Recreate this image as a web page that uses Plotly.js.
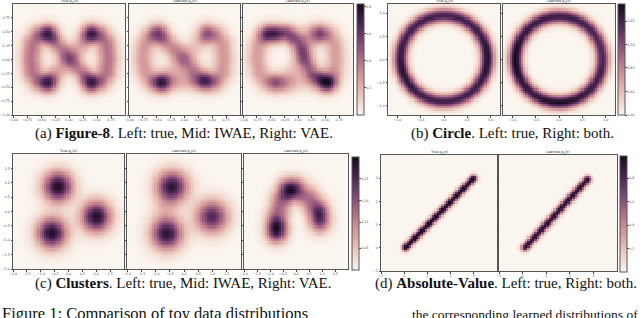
<!DOCTYPE html>
<html><head><meta charset="utf-8">
<script src="https://cdn.plot.ly/plotly-3.0.1.min.js"></script>
<style>html,body{margin:0;padding:0;background:#fff;overflow:hidden}#chart{width:640px;height:318px}</style>
</head><body><div id="chart"></div>
<script>
// ================= DATA =================
// Each stroke: [weight, sigma, x1,y1, x2,y2, ...]  (a blurred polyline of the density)
// Each blob:   [x, y, weight, sigma]
// Each ring:   [cx, cy, radius, sigma, weight]
const fig8TrueStrokes = [
  [0.60, 0.11, -0.38,0.46, 0.40,-0.42],
  [0.38, 0.12, -0.38,-0.42, 0.40,0.46],
  [0.68, 0.13, -0.38,0.46, -0.55,0.42, -0.65,0.28, -0.68,0.02, -0.65,-0.24, -0.55,-0.38, -0.38,-0.42],
  [0.68, 0.13, 0.40,0.46, 0.57,0.42, 0.67,0.28, 0.70,0.02, 0.67,-0.24, 0.57,-0.38, 0.40,-0.42]
];
const fig8TrueBlobs = [[-0.38,-0.42,0.22,0.10],[0.40,0.46,0.22,0.10]];
const fig8IwaeStrokes = [
  [0.70, 0.12, -0.48,0.46, -0.10,0.10, 0.30,-0.36],
  [0.45, 0.12, -0.42,-0.42, 0.05,-0.40, 0.45,-0.40],
  [0.30, 0.13, -0.42,-0.42, 0.42,0.46],
  [0.60, 0.13, -0.48,0.46, -0.62,0.40, -0.72,0.24, -0.75,0.02, -0.70,-0.24, -0.60,-0.38, -0.42,-0.42],
  [0.62, 0.13, 0.42,0.46, 0.58,0.42, 0.68,0.28, 0.71,0.02, 0.68,-0.24, 0.58,-0.38, 0.45,-0.40]
];
const fig8IwaeBlobs = [[-0.42,-0.42,0.30,0.10],[0.42,0.46,0.20,0.10]];
const fig8VaeStrokes = [
  [0.95, 0.11, -0.55,0.46, -0.20,0.47, 0.00,0.30, 0.25,-0.25, 0.55,-0.42],
  [0.32, 0.12, -0.20,-0.42, 0.30,0.46],
  [0.58, 0.13, -0.50,0.46, -0.63,0.40, -0.72,0.24, -0.75,0.02, -0.70,-0.24, -0.58,-0.38, -0.42,-0.42],
  [0.58, 0.13, 0.42,0.46, 0.57,0.42, 0.66,0.28, 0.69,0.02, 0.66,-0.24, 0.58,-0.38, 0.50,-0.42],
  [0.30, 0.12, -0.42,-0.42, 0.50,-0.42],
  [0.25, 0.12, -0.30,0.47, 0.42,0.46]
];
const fig8VaeBlobs = [[-0.42,-0.42,0.20,0.10],[0.44,0.46,0.22,0.10]];

const circleTrueRing = [0.00, 0.02, 0.93, 0.105, 1.00];
const circleLearnedRing = [0.00, 0.00, 0.93, 0.105, 1.00];
const circleTrueBumps = [[0.95,0.0,0.12,0.35],[-0.85,-0.3,0.10,0.35]];
const circleLearnedBumps = [[-0.93,0.0,0.15,0.35],[0.0,-0.93,0.12,0.35],[0.85,0.3,-0.08,0.35]];

const clusterTrueBlobs = [[-0.38,0.86,1.0,0.37],[1.00,-0.18,1.0,0.37],[-0.60,-0.75,1.0,0.37]];
const clusterIwaeBlobs = [[-0.42,0.86,1.0,0.39],[0.98,-0.18,1.0,0.39],[-0.60,-0.78,1.0,0.39]];
const clusterIwaeStrokes = [[0.15, 0.30, -0.60,-0.78, -0.70,0.0, -0.42,0.86]];
const clusterVaeStrokes = [[0.60, 0.29, -0.75,-0.72, -0.74,-0.2, -0.58,0.35, -0.32,0.72, 0.05,0.76, 0.50,0.45, 0.85,0.05, 0.92,-0.35]];
const clusterVaeBlobs = [[-0.22,0.74,0.6,0.27],[0.88,-0.12,0.45,0.27],[-0.74,-0.58,0.6,0.27]];

const absTrueStrokes = [[1.0, 0.11, 0.05,0.0, 3.0,3.0]];
const absLearnedStrokes = [[1.0, 0.115, 0.10,0.0, 2.75,2.95]];

// panel peak values and colour-bar ticks
const fig8Peaks = [0.74, 0.76, 0.82];
const circlePeaks = [1.85, 1.95];
const clusterPeaks = [0.25, 0.24, 0.26];
const absPeaks = [0.99, 0.94];
const fig8Max = 0.82, circleMax = 1.95, clusterMax = 0.26, absMax = 0.99;
const fig8CbTicks = [0.2, 0.4, 0.6, 0.8], fig8CbText = ['0.2','0.4','0.6','0.8'];
const circleCbTicks = [0, 0.41, 0.83, 1.24, 1.65], circleCbText = ['0.00','0.41','0.83','1.24','1.65'];
const clusterCbTicks = [0.05, 0.11, 0.16, 0.21], clusterCbText = ['0.05','0.11','0.16','0.21'];
const absCbTicks = [0.2, 0.4, 0.6, 0.8], absCbText = ['0.2','0.4','0.6','0.8'];

const fig8Ticks = [-1, -0.75, -0.5, -0.25, 0, 0.25, 0.5, 0.75];
const circleTicks = [-1, -0.5, 0, 0.5, 1];
const clusterTicks = [-2, -1.5, -1, -0.5, 0, 0.5, 1, 1.5];
const clusterYTicks = [-2, -1.5, -1, -0.5, 0, 0.5, 1, 1.5];
const absTicks = [-1, 0, 1, 2, 3];

const titlesTop = ['True p<sub>θ</sub>(x)', 'Learned p<sub>θ</sub>(x)', 'Learned p<sub>θ</sub>(x)', 'True p<sub>θ</sub>(x)', 'Learned p<sub>θ</sub>(x)'];
const titlesBottom = ['True p<sub>θ</sub>(x)', 'Learned p<sub>θ</sub>(x)', 'Learned p<sub>θ</sub>(x)', 'True p<sub>θ</sub>(x)', 'Learned p<sub>θ</sub>(x)'];
const captions = ['(a) <b>Figure-8</b>. Left: true, Mid: IWAE, Right: VAE.', '(b) <b>Circle</b>. Left: true, Right: both.',
                  '(c) <b>Clusters</b>. Left: true, Mid: IWAE, Right: VAE.', '(d) <b>Absolute-Value</b>. Left: true, Right: both.'];
const figCaptionA = 'Figure 1: Comparison of toy data distributions';
const figCaptionB = 'the corresponding learned distributions of';

// ================= density grids =================
const N = 50;
function centers(a, b){ const d=(b-a)/N; const o=[]; for(let i=0;i<N;i++) o.push(a+(i+0.5)*d); return o; }
function segD2(px,py,ax,ay,bx,by){ const dx=bx-ax,dy=by-ay,L=dx*dx+dy*dy; let t=L?((px-ax)*dx+(py-ay)*dy)/L:0; t=Math.max(0,Math.min(1,t)); const qx=ax+t*dx-px,qy=ay+t*dy-py; return qx*qx+qy*qy; }
function grid(range, strokes, blobs, ring, bumps, peak){
  const xs=centers(range[0],range[1]), ys=centers(range[0],range[1]);
  const z=[]; let mx=0;
  for(const y of ys){ const row=[]; for(const x of xs){
    let v=0;
    for(const s of (strokes||[])){ let d=Infinity; for(let k=2;k+3<s.length;k+=2) d=Math.min(d,segD2(x,y,s[k],s[k+1],s[k+2],s[k+3])); v+=s[0]*Math.exp(-d/(2*s[1]*s[1])); }
    for(const b of (blobs||[])){ const d=(x-b[0])**2+(y-b[1])**2; v+=b[2]*Math.exp(-d/(2*b[3]*b[3])); }
    if(ring){ const r=Math.hypot(x-ring[0],y-ring[1]); let w=ring[4];
      for(const m of (bumps||[])){ const d=(x-m[0])**2+(y-m[1])**2; w+=m[2]*Math.exp(-d/(2*m[3]*m[3])); }
      v+=w*Math.exp(-((r-ring[2])**2)/(2*ring[3]*ring[3])); }
    row.push(v); if(v>mx) mx=v; } z.push(row); }
  for(const row of z) for(let i=0;i<row.length;i++) row[i]=row[i]/mx*peak;
  return {x:xs, y:ys, z:z};
}

const cs = [[0,'#fbf5f0'],[0.10,'#f2dcd2'],[0.24,'#e4b5ad'],[0.38,'#cc8f96'],[0.52,'#a96985'],[0.66,'#7f4673'],[0.82,'#4a2553'],[1,'#170a1c']];

const W=640,H=318;
const boxes = [ // [left, top, right, bottom] in px
  [13,4,125,115],[129,4,240,115],[243,4,353,115],
  [388,4,500,115],[503,4,615,115],
  [13,154,124,269],[127,154,241,269],[244,154,348,269],
  [381,155,497,271],[499,155,617,271]
];
const ranges = [[-1,1],[-1,1],[-1,1],[-1.2,1.2],[-1.2,1.2],[-2,2],[-2,2],[-2,2],[-1,4],[-1,4]];
const grids = [
  grid(ranges[0], fig8TrueStrokes, fig8TrueBlobs, null, null, fig8Peaks[0]),
  grid(ranges[1], fig8IwaeStrokes, fig8IwaeBlobs, null, null, fig8Peaks[1]),
  grid(ranges[2], fig8VaeStrokes, fig8VaeBlobs, null, null, fig8Peaks[2]),
  grid(ranges[3], null, null, circleTrueRing, circleTrueBumps, circlePeaks[0]),
  grid(ranges[4], null, null, circleLearnedRing, circleLearnedBumps, circlePeaks[1]),
  grid(ranges[5], null, clusterTrueBlobs, null, null, clusterPeaks[0]),
  grid(ranges[6], clusterIwaeStrokes, clusterIwaeBlobs, null, null, clusterPeaks[1]),
  grid(ranges[7], clusterVaeStrokes, clusterVaeBlobs, null, null, clusterPeaks[2]),
  grid(ranges[8], absTrueStrokes, null, null, null, absPeaks[0]),
  grid(ranges[9], absLearnedStrokes, null, null, null, absPeaks[1])
];
const zmaxes = [fig8Max,fig8Max,fig8Max,circleMax,circleMax,clusterMax,clusterMax,clusterMax,absMax,absMax];
const tickSets = [fig8Ticks,fig8Ticks,fig8Ticks,circleTicks,circleTicks,clusterTicks,clusterTicks,clusterTicks,absTicks,absTicks];
const yTickSets = [fig8Ticks,fig8Ticks,fig8Ticks,circleTicks,circleTicks,clusterYTicks,clusterYTicks,clusterYTicks,absTicks,absTicks];
const fmts = ['.2f','.2f','.2f','.1f','.1f','.1f','.1f','.1f','d','d'];
const firstOfGroup = [true,false,false,true,false,true,false,false,true,false];
const cbars = { // index of panel carrying the bar : [left, top, bottom, ticks, text]
  2:[357,4,115,fig8CbTicks,fig8CbText], 4:[618,4,115,circleCbTicks,circleCbText],
  7:[352,157,270,clusterCbTicks,clusterCbText], 9:[620,156,272,absCbTicks,absCbText]
};
const TF = 3.3;

const data=[]; const layout={width:W,height:H,margin:{l:0,r:0,t:0,b:0},paper_bgcolor:'#fff',plot_bgcolor:'#fff',
  font:{family:'DejaVu Sans',size:TF,color:'#333'},showlegend:false,annotations:[]};
grids.forEach((g,i)=>{
  const n=i+1, xa='x'+(n===1?'':n), ya='y'+(n===1?'':n);
  const tr={type:'heatmap',x:g.x,y:g.y,z:g.z,xaxis:xa,yaxis:ya,colorscale:cs,zmin:0,zmax:zmaxes[i],showscale:false,hoverinfo:'skip'};
  if(cbars[i]){ const c=cbars[i]; tr.showscale=true;
    tr.colorbar={x:c[0]/W,xanchor:'left',y:1-c[1]/H,yanchor:'top',len:(c[2]-c[1])/H,lenmode:'fraction',thickness:7,thicknessmode:'pixels',
      xpad:0,ypad:0,outlinewidth:1,outlinecolor:'#555',tickvals:c[3],ticktext:c[4],ticks:'outside',ticklen:1.5,tickcolor:'#444',
      tickfont:{size:TF,color:'#444'}}; }
  data.push(tr);
  const b=boxes[i];
  const axCommon={showgrid:false,zeroline:false,showline:true,mirror:true,linecolor:'#555',linewidth:1,ticks:'outside',ticklen:1.5,tickcolor:'#444',
    tickfont:{size:TF,color:'#444'},tickangle:0,automargin:false};
  layout['xaxis'+(n===1?'':n)]=Object.assign({},axCommon,{domain:[b[0]/W,b[2]/W],range:ranges[i],anchor:ya,tickvals:tickSets[i],tickformat:fmts[i]});
  layout['yaxis'+(n===1?'':n)]=Object.assign({},axCommon,{domain:[1-b[3]/H,1-b[1]/H],range:ranges[i],anchor:xa,tickvals:yTickSets[i],tickformat:fmts[i],showticklabels:firstOfGroup[i]});
  const titles = i<5 ? titlesTop : titlesBottom;
  layout.annotations.push({xref:'paper',yref:'paper',x:(b[0]+b[2])/2/W,y:1-(b[1]+0.6)/H,xanchor:'center',yanchor:'bottom',showarrow:false,
    text:titles[i%5],font:{size:3.5,color:'#333'},borderpad:0});
});
const capPos=[[184,133],[512,133],[183,283],[506,283]];
captions.forEach((t,i)=>layout.annotations.push({xref:'paper',yref:'paper',x:capPos[i][0]/W,y:1-capPos[i][1]/H,xanchor:'center',yanchor:'middle',
  showarrow:false,text:t,font:{family:'Liberation Serif',size:15,color:'#111'}}));
layout.annotations.push({xref:'paper',yref:'paper',x:0,y:1-313/H,xanchor:'left',yanchor:'middle',showarrow:false,text:figCaptionA,
  font:{family:'Liberation Serif',size:16.5,color:'#111'}});
layout.annotations.push({xref:'paper',yref:'paper',x:1,y:1-314.8/H,xanchor:'right',yanchor:'middle',showarrow:false,text:figCaptionB,
  font:{family:'Liberation Serif',size:13.5,color:'#111'}});
Plotly.newPlot('chart',data,layout,{staticPlot:true,displayModeBar:false});
</script></body></html>
